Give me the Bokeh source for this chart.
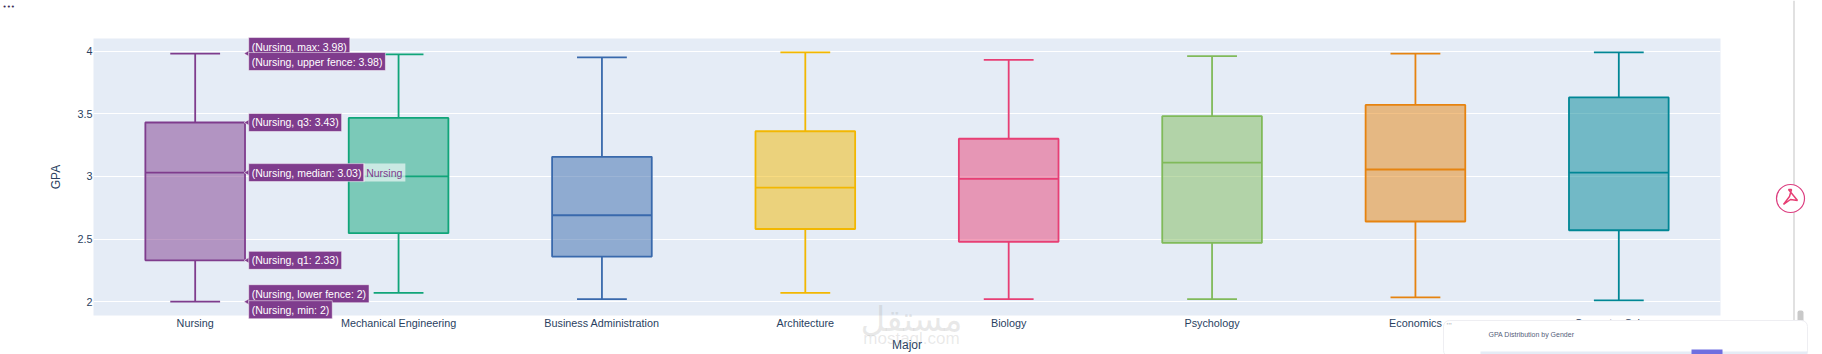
from bokeh.plotting import figure
from bokeh.embed import file_html
from bokeh.resources import INLINE
from bokeh.models import ColumnDataSource, FixedTicker, Range1d
from bokeh.core.properties import value
from bokeh.transform import dodge

majors = ["Nursing", "Mechanical Engineering", "Business Administration", "Architecture",
          "Biology", "Psychology", "Economics", "Computer Science"]
whisker_low = [2.0, 2.07, 2.02, 2.07, 2.02, 2.02, 2.035, 2.01]
q1 = [2.33, 2.547, 2.36, 2.58, 2.478, 2.47, 2.64, 2.57]
median = [3.03, 3.00, 2.69, 2.91, 2.98, 3.11, 3.055, 3.03]
q3 = [3.43, 3.466, 3.156, 3.36, 3.30, 3.48, 3.57, 3.63]
whisker_high = [3.98, 3.973, 3.95, 3.99, 3.93, 3.96, 3.98, 3.99]
colors = ["#7F3C8D", "#11A579", "#3969AC", "#F2B701", "#E73F74", "#80BA5A", "#E68310", "#008695"]

y_ticks = [2, 2.5, 3, 3.5, 4]
y_tick_labels = ["2", "2.5", "3", "3.5", "4"]

hover_names = ["max", "upper fence", "q3", "median", "q1", "lower fence", "min"]
hover_values = [3.98, 3.98, 3.43, 3.03, 2.33, 2, 2]
hover_shift = [-7, 8, 0, 0, 0, -8, 8]

FONT = "Liberation Sans"
TXT = "#2a3f5f"
W, H = 1822, 354
F_L, F_R, F_T, F_B = 93, 1720, 38, 315
Y0, Y1 = 1.89, 4.10

p = figure(x_range=majors, y_range=Range1d(Y0, Y1), width=W, height=H,
           output_backend="svg", toolbar_location=None,
           min_border_left=F_L, min_border_right=W - F_R, min_border_top=F_T, min_border_bottom=H - F_B,
           background_fill_color="#E5ECF6", border_fill_color="white", outline_line_color=None)

src = ColumnDataSource(dict(x=majors, low=whisker_low, q1=q1, med=median, q3=q3,
                            high=whisker_high, color=colors))
B = 0.245
C = 0.1225
LW = 1.8
rng = p.x_range
p.vbar(x="x", top="q3", bottom="q1", width=2 * B, source=src, fill_color="color", fill_alpha=0.5,
       line_color="color", line_width=LW)
p.segment(x0=dodge("x", -B, range=rng), x1=dodge("x", B, range=rng), y0="med", y1="med",
          source=src, line_color="color", line_width=LW)
p.segment(x0="x", x1="x", y0="q3", y1="high", source=src, line_color="color", line_width=LW)
p.segment(x0="x", x1="x", y0="q1", y1="low", source=src, line_color="color", line_width=LW)
for yy in ("high", "low"):
    p.segment(x0=dodge("x", -C, range=rng), x1=dodge("x", C, range=rng), y0=yy, y1=yy,
              source=src, line_color="color", line_width=LW)

# Hover labels for the first box
hover = ColumnDataSource(dict(
    x=[majors[0]] * len(hover_names),
    y=hover_values,
    t=[f"({majors[0]}, {n}: {v})" for n, v in zip(hover_names, hover_values)],
    s=hover_shift))
p.scatter(x=dodge("x", 0.26, range=rng), y="y", source=hover, marker="triangle", angle=1.5708,
          size=7, fill_color=colors[0], line_color="white", line_width=0.5)

# Axes
p.xgrid.visible = False
p.ygrid.grid_line_color = "white"
p.ygrid.grid_line_width = 1
p.yaxis.ticker = FixedTicker(ticks=y_ticks)
p.yaxis.major_label_overrides = dict(zip(y_ticks, y_tick_labels))
for ax in (p.xaxis[0], p.yaxis[0]):
    ax.axis_line_color = None
    ax.major_tick_line_color = None
    ax.minor_tick_line_color = None
    ax.major_tick_out = 0
    ax.major_tick_in = 0
    ax.minor_tick_out = 0
    ax.major_label_text_color = TXT
    ax.major_label_text_font = FONT
    ax.major_label_text_font_size = "10.8px"
    ax.axis_label_text_color = TXT
    ax.axis_label_text_font = FONT
    ax.axis_label_text_font_size = "12px"
    ax.axis_label_text_font_style = "normal"
p.xaxis.axis_label = "Major"
p.yaxis.axis_label = "GPA"
p.xaxis.major_label_standoff = 1
p.yaxis.major_label_standoff = 1
p.xaxis.axis_label_standoff = 6
p.yaxis.axis_label_standoff = 11

# Transparent overlay figure in picture pixels, for what spills over the plot frame
ov = figure(x_range=Range1d(0, W), y_range=Range1d(H, 0), width=W, height=H,
            output_backend="svg", toolbar_location=None, min_border=0,
            background_fill_alpha=0, border_fill_alpha=0, outline_line_color=None,
            x_axis_location=None, y_axis_location=None)
ov.grid.visible = False
ov.styles = {"position": "absolute", "left": "0px", "top": "0px", "z-index": "5",
             "pointer-events": "none"}

def px_x(frac):  # band fraction from the first category centre to picture px
    band = (F_R - F_L) / len(majors)
    return F_L + band / 2 + frac * band

def px_y(v):
    return F_T + (Y1 - v) / (Y1 - Y0) * (F_B - F_T)

ov.text(x=[px_x(0.263)] * len(hover_names), y=[px_y(v) + s for v, s in zip(hover_values, hover_shift)],
        text=hover.data["t"], text_color="white", text_font=value(FONT), text_font_size="10.5px",
        text_baseline="middle", text_align="left", background_fill_color=colors[0], padding=3,
        border_line_color="white", border_line_width=0.5)
ov.text(x=[px_x(0.826)], y=[px_y(median[0])], text=[majors[0]], text_color=colors[0],
        text_font=value(FONT), text_font_size="10.5px", text_baseline="middle", text_align="left",
        background_fill_color="white", background_fill_alpha=0.6, padding=3)

ov.text(x=[2], y=[6], text=["•••"], text_font=value("DejaVu Sans"), text_font_size="7px",
        text_color="#3b2a55", text_baseline="middle")
ov.text(x=[911], y=[318], text=["مستقل"], text_font=value("DejaVu Sans"), text_font_size="34px",
        text_color="#9a9a9a", text_alpha=0.22, text_align="center", text_baseline="middle")
ov.text(x=[911], y=[338], text=["mostaql.com"], text_font=value(FONT), text_font_size="17px",
        text_color="#9a9a9a", text_alpha=0.22, text_align="center", text_baseline="middle")

ov.quad(left=[1793], right=[1794], top=[0], bottom=[354], fill_color="#c4c4c4", line_color=None)
ov.circle(x=[1790], y=[198], radius=14, fill_color="white", line_color="#dc3f80", line_width=1.2)
ov.line(x=[1783, 1789, 1791, 1788, 1797, 1790, 1783], y=[204, 196, 189, 189, 200, 199, 204],
        line_color="#e73f74", line_width=1.5)
ov.quad(left=[1797], right=[1803], top=[310], bottom=[328], fill_color="#c9c9c9", line_color=None,
        border_radius=2)
ov.quad(left=[1443], right=[1807], top=[320], bottom=[356], fill_color="white",
        line_color="#eeeef2", border_radius=6)
ov.quad(left=[1480], right=[1807], top=[351], bottom=[354], fill_color="#E5ECF6", line_color=None)
ov.quad(left=[1691], right=[1722], top=[349], bottom=[354], fill_color="#6f6fe0", line_color=None)
ov.text(x=[1488], y=[334], text=["GPA Distribution by Gender"], text_font=value(FONT),
        text_font_size="7px", text_color="#55607a", text_baseline="middle")
ov.text(x=[1446], y=[323], text=["•••"], text_font=value("DejaVu Sans"), text_font_size="3px",
        text_color="#55607a", text_baseline="middle")

open("out.html", "w").write(file_html([p, ov], INLINE))
